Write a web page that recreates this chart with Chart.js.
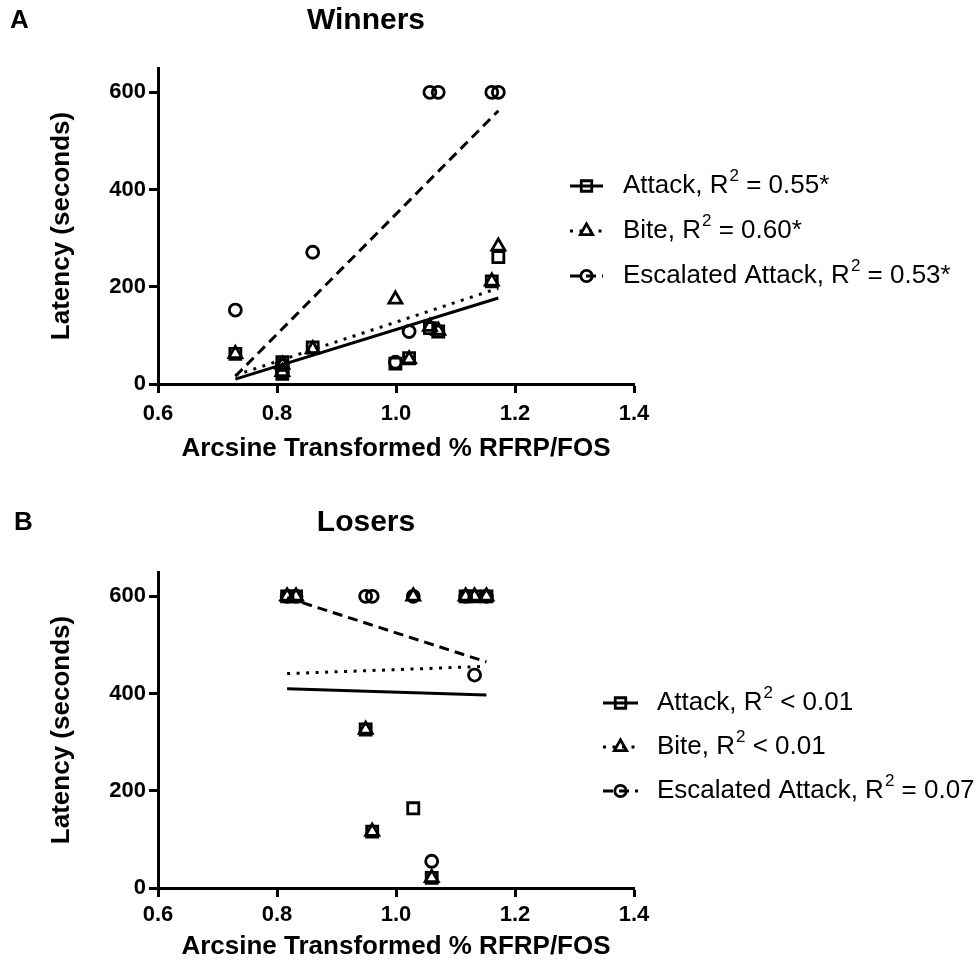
<!DOCTYPE html>
<html><head><meta charset="utf-8">
<script src="https://cdn.jsdelivr.net/npm/chart.js@4.4.1/dist/chart.umd.min.js"></script>
<style>
html,body{margin:0;padding:0;background:#fff;}
#wrap{position:relative;width:979px;height:965px;overflow:hidden;background:#fff;}
canvas{position:absolute;left:0;}
</style></head><body>
<div id="wrap">
<canvas id="cA" width="979" height="504" style="top:0px"></canvas>
<canvas id="cB" width="979" height="461" style="top:504px"></canvas>
</div>
<script>
// ---------- data ----------
const xTickValues = [0.6, 0.8, 1.0, 1.2, 1.4];
const yTickValues = [0, 200, 400, 600];
const seriesNames = ['Attack', 'Bite', 'Escalated Attack'];

// Panel A: Winners
const winnersX         = [0.730, 0.809, 0.809, 0.860, 0.999, 1.022, 1.057, 1.071, 1.161, 1.172];
const winnersAttack    = [62, 45, 21, 75, 42, 53, 115, 108, 211, 261];
const winnersBite      = [62, 40, 25, 72, 174, 51, 118, 110, 211, 283];
const winnersEscalated = [152, 40, 25, 271, 45, 108, 600, 600, 600, 600];
const winnersFitX          = [0.730, 1.172];
const winnersAttackFit     = [10, 177];
const winnersBiteFit       = [18, 197];
const winnersEscalatedFit  = [16, 562];
const winnersR2 = [' = 0.55*', ' = 0.60*', ' = 0.53*'];

// Panel B: Losers
const losersX         = [0.817, 0.832, 0.949, 0.960, 1.029, 1.060, 1.117, 1.132, 1.152];
const losersAttack    = [600, 600, 326, 116, 164, 21, 600, 600, 600];
const losersBite      = [600, 600, 326, 116, 600, 21, 600, 600, 600];
const losersEscalated = [600, 600, 600, 600, 600, 55, 600, 438, 600];
const losersFitX          = [0.817, 1.152];
const losersAttackFit     = [410, 397];
const losersBiteFit       = [441, 456];
const losersEscalatedFit  = [597, 465];
const losersR2 = [' < 0.01', ' < 0.01', ' = 0.07'];

// ---------- styling ----------
const SANS = '"Liberation Sans", Arial, Helvetica, sans-serif';
const styles = [
  {pointStyle: 'rect',     radius: 7.8, dash: []},
  {pointStyle: 'triangle', radius: 7.5, dash: [3, 6.5]},
  {pointStyle: 'circle',   radius: 6.0, dash: [10, 6]}
];

function pts(xs, ys) { return xs.map((x, i) => ({x: x, y: ys[i]})); }

function marker(ctx, style, x, y, r) {
  ctx.beginPath();
  if (style === 'rect') {
    const s = r * Math.SQRT1_2;
    ctx.rect(x - s, y - s, 2 * s, 2 * s);
  } else if (style === 'triangle') {
    let a = 0;
    ctx.moveTo(x + Math.sin(a) * r, y - Math.cos(a) * r);
    a += 2 * Math.PI / 3;
    ctx.lineTo(x + Math.sin(a) * r, y - Math.cos(a) * r);
    a += 2 * Math.PI / 3;
    ctx.lineTo(x + Math.sin(a) * r, y - Math.cos(a) * r);
    ctx.closePath();
  } else {
    ctx.arc(x, y, r, 0, Math.PI * 2);
  }
  ctx.stroke();
}

const overlay = {
  id: 'overlay',
  afterDraw(chart, args, o) {
    const ctx = chart.ctx;
    ctx.save();
    ctx.fillStyle = '#000';
    ctx.textBaseline = 'middle';
    ctx.textAlign = 'left';
    ctx.font = 'bold 26px ' + SANS;
    ctx.fillText(o.letter, o.letterX, o.titleY);
    ctx.textAlign = 'center';
    ctx.font = 'bold 30px ' + SANS;
    ctx.fillText(o.title, o.titleX, o.titleY);
    // legend
    ctx.textAlign = 'left';
    seriesNames.forEach((name, i) => {
      const y = o.legendY[i];
      const st = styles[i];
      ctx.strokeStyle = '#000';
      ctx.lineWidth = 2.8;
      ctx.setLineDash(st.dash);
      ctx.beginPath();
      ctx.moveTo(o.symX1, y);
      ctx.lineTo(o.symX2, y);
      ctx.stroke();
      ctx.setLineDash([]);
      marker(ctx, st.pointStyle, (o.symX1 + o.symX2) / 2, y, st.radius * 0.95);
      let x = o.textX;
      ctx.font = '26px ' + SANS;
      const pre = name + ', R';
      ctx.fillText(pre, x, y);
      x += ctx.measureText(pre).width;
      ctx.font = '17px ' + SANS;
      ctx.fillText('2', x + 1, y - 10);
      x += ctx.measureText('2').width + 1;
      ctx.font = '26px ' + SANS;
      ctx.fillText(o.r2[i], x, y);
    });
    ctx.restore();
  }
};

function makeChart(id, H, xs, att, bite, esc, fitX, fA, fB, fE, ann, tickPad, titlePadBottom) {
  const pointDs = (label, ys, st) => ({
    type: 'scatter', label: label, data: pts(xs, ys),
    pointStyle: st.pointStyle, pointRadius: st.radius, pointHoverRadius: st.radius,
    pointBorderWidth: 2.8, pointBorderColor: '#000', pointBackgroundColor: 'rgba(0,0,0,0)',
    borderColor: '#000', backgroundColor: 'rgba(0,0,0,0)', showLine: false
  });
  const lineDs = (label, ys, st) => ({
    type: 'line', label: label, data: pts(fitX, ys),
    borderColor: '#000', borderWidth: 3, borderDash: st.dash, pointRadius: 0,
    fill: false, tension: 0, borderCapStyle: 'butt'
  });
  return new Chart(document.getElementById(id), {
    type: 'scatter',
    data: {
      datasets: [
        lineDs('Attack fit', fA, styles[0]),
        lineDs('Bite fit', fB, styles[1]),
        lineDs('Escalated Attack fit', fE, styles[2]),
        pointDs('Attack', att, styles[0]),
        pointDs('Bite', bite, styles[1]),
        pointDs('Escalated Attack', esc, styles[2])
      ]
    },
    options: {
      responsive: false, animation: false, devicePixelRatio: 1,
      layout: {padding: {left: 0, right: 345, top: 68, bottom: 0}},
      plugins: {legend: {display: false}, tooltip: {enabled: false}, title: {display: false}, overlay: ann},
      scales: {
        x: {
          type: 'linear', min: 0.6, max: 1.4,
          afterBuildTicks: s => { s.ticks = xTickValues.map(v => ({value: v})); },
          afterFit: s => { s.height = H - 384; },
          border: {display: true, color: '#000', width: 3},
          grid: {display: true, drawOnChartArea: false, drawTicks: true, tickLength: 9, tickWidth: 3, tickColor: '#000', color: '#000'},
          ticks: {color: '#000', padding: tickPad, autoSkip: false, maxRotation: 0, font: {family: SANS, size: 22, weight: 'bold'}, callback: v => Number(v).toFixed(1)},
          title: {display: true, text: 'Arcsine Transformed % RFRP/FOS', color: '#000', font: {family: SANS, size: 26, weight: 'bold', lineHeight: 1.0}, padding: {top: 0, bottom: titlePadBottom}}
        },
        y: {
          type: 'linear', min: 0, max: 650,
          afterBuildTicks: s => { s.ticks = yTickValues.map(v => ({value: v})); },
          afterFit: s => { s.width = 158; },
          border: {display: true, color: '#000', width: 3},
          grid: {display: true, drawOnChartArea: false, drawTicks: true, tickLength: 9, tickWidth: 3, tickColor: '#000', color: '#000'},
          ticks: {color: '#000', padding: 3, font: {family: SANS, size: 22, weight: 'bold'}},
          title: {display: true, text: 'Latency (seconds)', color: '#000', font: {family: SANS, size: 26, weight: 'bold', lineHeight: 1.0}, padding: {top: 49, bottom: 0}}
        }
      }
    },
    plugins: [overlay]
  });
}

makeChart('cA', 504, winnersX, winnersAttack, winnersBite, winnersEscalated,
  winnersFitX, winnersAttackFit, winnersBiteFit, winnersEscalatedFit,
  {letter: 'A', letterX: 10, title: 'Winners', titleX: 366, titleY: 21,
   symX1: 570, symX2: 603, textX: 623, legendY: [186, 231, 276], r2: winnersR2}, 8, 42);

makeChart('cB', 461, losersX, losersAttack, losersBite, losersEscalated,
  losersFitX, losersAttackFit, losersBiteFit, losersEscalatedFit,
  {letter: 'B', letterX: 14, title: 'Losers', titleX: 366, titleY: 19,
   symX1: 603, symX2: 638, textX: 657, legendY: [199, 243, 287], r2: losersR2}, 5, 5);
</script>
</body></html>
